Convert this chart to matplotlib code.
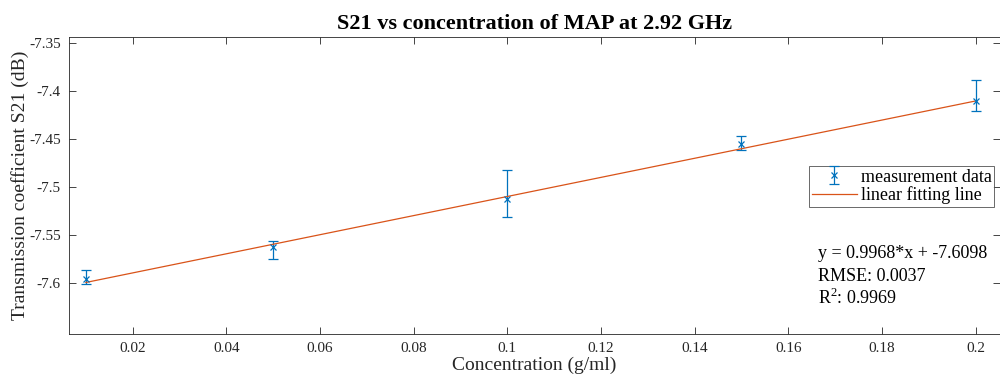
import numpy as np
import matplotlib.pyplot as plt

plt.rcParams['font.family'] = ['Liberation Serif', 'DejaVu Serif']
plt.rcParams['mathtext.fontset'] = 'custom'
plt.rcParams['mathtext.rm'] = 'Liberation Serif'

# measured points (concentration g/ml, S21 dB) and error bar extents
conc = np.array([0.01, 0.05, 0.10, 0.15, 0.20])
s21 = np.array([-7.596, -7.563, -7.513, -7.455, -7.411])
err_lo = np.array([0.0053, 0.012, 0.019, 0.0063, 0.0095])
err_hi = np.array([0.0095, 0.006, 0.0305, 0.0084, 0.022])

# linear fit
slope = 0.9968
intercept = -7.6098
fit_x = np.array([0.01, 0.2])
fit_y = slope*fit_x + intercept

blue = '#0072BD'
orange = '#D95319'
axc = '#262626'

fig = plt.figure(figsize=(10, 3.81), dpi=100)
ax = fig.add_axes([0.069, 0.1234, 0.931, 0.7795])

eb = ax.errorbar(conc, s21, yerr=[err_lo, err_hi], fmt='x', color=blue, ecolor=blue,
                 elinewidth=0.9, capsize=3.6, capthick=0.9, markersize=5, markeredgewidth=0.9,
                 label='measurement data')
ln, = ax.plot(fit_x, fit_y, color=orange, lw=0.9, label='linear fitting line')

ax.set_xlim(0.0064, 0.2052)
ax.set_ylim(-7.6536, -7.3437)
ax.set_xticks(np.arange(0.02, 0.201, 0.02))
ax.set_xticklabels(['0.02', '0.04', '0.06', '0.08', '0.1', '0.12', '0.14', '0.16', '0.18', '0.2'])
ax.set_yticks([-7.6, -7.55, -7.5, -7.45, -7.4, -7.35])
ax.set_yticklabels(['-7.6', '-7.55', '-7.5', '-7.45', '-7.4', '-7.35'])
ax.tick_params(direction='in', length=5, width=0.6, colors=axc, labelsize=11,
               top=True, right=True, pad=6)
for s in ax.spines.values():
    s.set_color(axc)
    s.set_linewidth(0.6)

ax.set_xlabel('Concentration (g/ml)', fontsize=14, color=axc, labelpad=1)
ax.set_ylabel('Transmission coefficient S21 (dB)', fontsize=14, color=axc, labelpad=0)
ax.set_title('S21 vs concentration of MAP at 2.92 GHz', fontsize=16, fontweight='bold', pad=6)

leg = ax.legend([eb, ln], ['measurement data', 'linear fitting line'],
                loc='upper left', bbox_to_anchor=(0.795, 0.566), fontsize=13, frameon=True,
                fancybox=False, edgecolor=axc, borderpad=0.15, labelspacing=0.05,
                handlelength=2.5, handletextpad=0.2, borderaxespad=0)
leg.get_frame().set_linewidth(0.6)

ax.text(0.804, 0.256, 'y = %.4f*x + %.4f' % (slope, intercept), transform=ax.transAxes,
        fontsize=13, va='baseline')
ax.text(0.804, 0.180, 'RMSE: 0.0037', transform=ax.transAxes, fontsize=13, va='baseline')
ax.text(0.804, 0.100, 'R$^2$: 0.9969', transform=ax.transAxes, fontsize=13, va='baseline')

fig.savefig('out.png', dpi=100)
